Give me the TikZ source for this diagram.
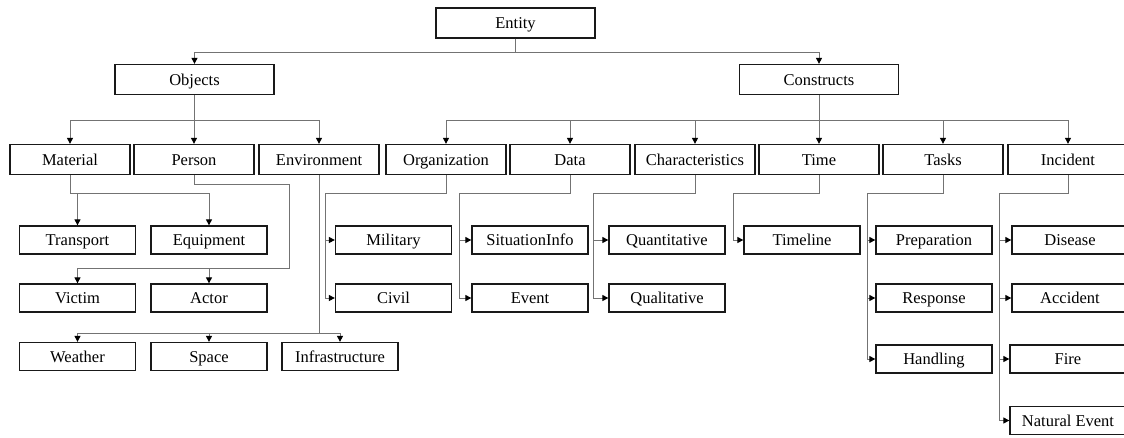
\documentclass[tikz,border=0pt]{standalone}
\usepackage{fontspec}
\setmainfont{Liberation Serif}
\usetikzlibrary{arrows.meta}
\begin{document}
\begin{tikzpicture}[x=1pt,y=-1pt,
  box/.style={draw=black!90,line width=1.3pt,minimum height=29pt,inner sep=0pt,
    text height=13pt,text depth=2pt,
    font=\fontsize{16.5}{19}\selectfont},
  topbox/.style={box,minimum width=159pt,minimum height=30pt},
  midbox/.style={box,minimum width=120pt,minimum height=30pt},
  leaf/.style={box,minimum width=116pt,minimum height=28pt},
  conn/.style={draw=black!55,line width=1pt},
  arr/.style={conn,-{Triangle[black,length=6pt,width=6pt]}}]
\useasboundingbox (0,0) rectangle (1124,437);
% top
\node[topbox] (ent) at (515.5,23) {Entity};
\node[topbox] (obj) at (194.5,79.5) {Objects};
\node[topbox] (con) at (819,79.5) {Constructs};
% row 1
\node[midbox] (mat) at (70,159.5) {Material};
\node[midbox] (per) at (194,159.5) {Person};
\node[midbox] (env) at (319,159.5) {Environment};
\node[midbox] (org) at (446,159.5) {Organization};
\node[midbox] (dat) at (570,159.5) {Data};
\node[midbox] (cha) at (695,159.5) {Characteristics};
\node[midbox] (tim) at (819,159.5) {Time};
\node[midbox] (tas) at (943,159.5) {Tasks};
\node[midbox] (inc) at (1068,159.5) {Incident};
% leaves
\node[leaf] (tra) at (77.5,240) {Transport};
\node[leaf] (equ) at (209,240) {Equipment};
\node[leaf] (vic) at (77.5,298) {Victim};
\node[leaf] (act) at (209,298) {Actor};
\node[leaf] (wea) at (77.5,356.5) {Weather};
\node[leaf] (spa) at (209,356.5) {Space};
\node[leaf] (inf) at (340,356.5) {Infrastructure};
\node[leaf] (mil) at (393.5,240) {Military};
\node[leaf] (civ) at (393.5,298) {Civil};
\node[leaf] (sit) at (530,240) {SituationInfo};
\node[leaf] (evt) at (530,298) {Event};
\node[leaf] (qua) at (667,240) {Quantitative};
\node[leaf] (qul) at (667,298) {Qualitative};
\node[leaf] (tml) at (802,240) {Timeline};
\node[leaf] (pre) at (934,240) {Preparation};
\node[leaf] (res) at (934,298) {Response};
\node[leaf] (han) at (934,359) {Handling};
\node[leaf] (dis) at (1070,240) {Disease};
\node[leaf] (acc) at (1070,298) {Accident};
\node[leaf] (fir) at (1068,359) {Fire};
\node[leaf] (nat) at (1068,420.5) {Natural Event};
% Entity
\draw[arr] (ent.south) -- ++(0,14) -| (obj.north);
\draw[arr] (ent.south) -- ++(0,14) -| (con.north);
% Objects
\foreach \c in {mat,per,env}
  \draw[arr] (obj.south) -- ++(0,25) -| (\c.north);
% Constructs
\foreach \c in {org,dat,cha,tim,tas,inc}
  \draw[arr] (con.south) -- ++(0,25) -| (\c.north);
% Material
\draw[arr] (mat.south) -- ++(0,18) -| (tra.north);
\draw[arr] (mat.south) -- ++(0,18) -| (equ.north);
% Person
\draw[arr] (per.south) -- ++(0,9) -- ++(95,0) -- ++(0,84) -| (vic.north);
\draw[arr] (per.south) -- ++(0,9) -- ++(95,0) -- ++(0,84) -| (act.north);
% Environment
\foreach \c in {wea,spa,inf}
  \draw[arr] (env.south) -- ++(0,158) -| (\c.north);
% Organization
\foreach \c in {mil,civ}
  \draw[arr] (org.south) -- ++(0,18) -- ++(-121,0) |- (\c.west);
% Data
\foreach \c in {sit,evt}
  \draw[arr] (dat.south) -- ++(0,18) -- ++(-111,0) |- (\c.west);
% Characteristics
\foreach \c in {qua,qul}
  \draw[arr] (cha.south) -- ++(0,18) -- ++(-102,0) |- (\c.west);
% Time
\draw[arr] (tim.south) -- ++(0,18) -- ++(-86,0) |- (tml.west);
% Tasks
\foreach \c in {pre,res,han}
  \draw[arr] (tas.south) -- ++(0,18) -- ++(-76,0) |- (\c.west);
% Incident
\foreach \c in {dis,acc,fir,nat}
  \draw[arr] (inc.south) -- ++(0,18) -- ++(-69,0) |- (\c.west);
\end{tikzpicture}
\end{document}
